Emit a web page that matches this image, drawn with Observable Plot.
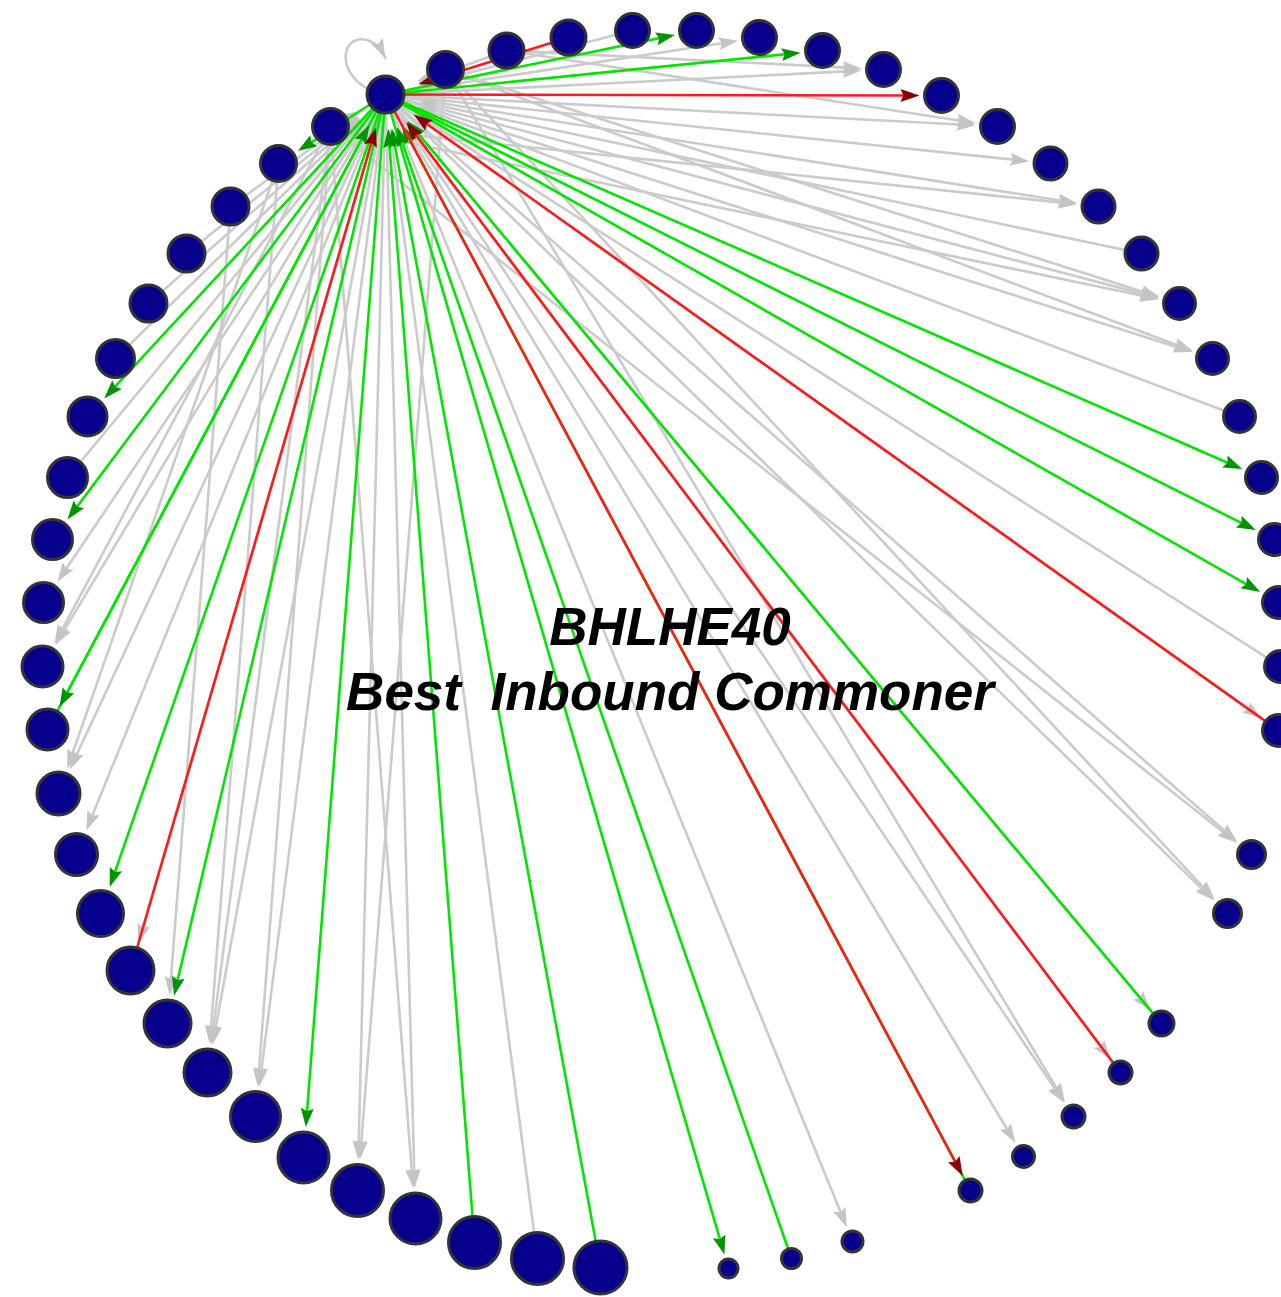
<!DOCTYPE html>
<html><head><meta charset="utf-8">
<script src="https://cdn.jsdelivr.net/npm/d3@7"></script>
<script src="https://cdn.jsdelivr.net/npm/@observablehq/plot@0.6"></script>
<style>html,body{margin:0;padding:0;background:#fff;overflow:hidden}</style>
</head><body><div id="chart"></div>
<script>
// Network layout (node 0 = BHLHE40 hub)
const nodeX = [385,445,506,568,632,696,759,822,883,941,997,1050,1098,1141,1179,1212,1239,1261,1274,1278,1280,1278,1251,1227,1161,1120,1073,1023,970,852,791,728,600,537,474,415,357,303,255,207,167,130,100,76,58,47,42,43,52,67,87,115,148,186,230,278,330];
const nodeY = [94,69,50,37,30,30,37,50,69,95,126,163,206,253,303,358,416,477,539,602,666,730,854,913,1023,1072,1116,1156,1190,1241,1258,1268,1267,1258,1242,1218,1190,1157,1116,1072,1023,970,913,854,793,729,666,602,539,477,416,358,303,253,206,163,126];
const nodeSize = [18.5,18,17.5,17.5,17,17,17,17,17,17,17,16.5,16.5,16.5,16,16,16,16,16,16,16,16,14,14,12.5,11.5,11.5,11,11.5,10.5,10,9.5,26.5,26,26,25.5,26,25.5,25,23.5,23.5,23.5,23,21,21.5,20.5,20.5,20,20,20,19.5,19,18.5,18.5,18.5,18,18];

// Edges: source, target, kind
const edgeSource = [
  // grey
  0,0,0,0,0,0,0,0,0,0,0,0,0,0,0,0,0,0,0,0,0,0,0,0,
  13,16,20,33,52,53,54,4,1,2,56,49,51,
  56,1,56,1,56,1,2,56,55,56,1,56,54,55,56,1,2,
  // green
  0,0,0,0,0,24,28,0,30,32,34,0,0,0,0,45,0,0,0,
  // red
  3,0,21,25,0,41
];
const edgeTarget = [
  6,8,10,11,12,14,15,21,22,23,24,25,26,27,29,35,36,38,39,43,44,46,47,41,
  0,0,0,0,0,0,0,0,0,0,0,0,0,
  14,14,22,23,12,15,10,38,39,39,36,35,40,44,46,26,8,
  5,7,17,18,19,0,0,31,0,0,0,37,40,42,45,0,48,50,55,
  0,9,0,0,28,0
];
const edgeKind = [
  ...Array(24).fill("grey"), ...Array(13).fill("grey"), ...Array(17).fill("grey"),
  ...Array(19).fill("green"),
  ...Array(6).fill("red")
];
const selfLoops = [0]; // hub regulates itself
const centerTitle = "BHLHE40\nBest\u00a0\u00a0Inbound Commoner";

const nodes = nodeX.map((x, i) => ({id: i, x, y: nodeY[i], r: nodeSize[i]}));
const edges = edgeSource.map((s, i) => {
  const a = nodes[s], b = nodes[edgeTarget[i]];
  const dx = b.x - a.x, dy = b.y - a.y, L = Math.hypot(dx, dy);
  const ux = dx / L, uy = dy / L;
  const d = b.r + (b.id === 0 ? 16 : 5);
  return {
    kind: edgeKind[i],
    x1: a.x, y1: a.y,
    x2: b.x - ux * (d + 6), y2: b.y - uy * (d + 6),
    hx: b.x - ux * d, hy: b.y - uy * d,
    angle: Math.atan2(ux, -uy) * 180 / Math.PI
  };
});

// self-loop drawn as a petal leaving and re-entering the hub
const loopLines = [], loopHeads = [];
for (const i of selfLoops) {
  const n = nodes[i], N = 40, pts = [];
  for (let k = 0; k <= N; k++) {
    const t = Math.PI * k / N, rad = 62 * Math.sin(t);
    const a = (-172 + 102 * k / N) * Math.PI / 180;
    const p = {x: n.x + rad * Math.cos(a), y: n.y + rad * Math.sin(a), loop: i};
    if (k > N / 2 && rad < n.r + 16) break;
    pts.push(p);
  }
  loopLines.push(...pts);
  const p1 = pts[pts.length - 2], p2 = pts[pts.length - 1];
  const dx = p2.x - p1.x, dy = p2.y - p1.y;
  loopHeads.push({x: p2.x, y: p2.y, angle: Math.atan2(dx, -dy) * 180 / Math.PI});
}

const arrowHead = {draw(ctx) {
  ctx.moveTo(0, 0); ctx.lineTo(6.5, 19); ctx.lineTo(0, 16); ctx.lineTo(-6.5, 19); ctx.closePath();
}};
const lineColor = {grey: "#cbcbcb", green: "#00e600", red: "#ff1a1a"};
const headColor = {grey: "#c4c4c4", green: "#009400", red: "#8a0000"};

const marks = [
  Plot.line(loopLines, {x: "x", y: "y", z: "loop", curve: "basis", stroke: "#cbcbcb", strokeWidth: 2.6}),
  Plot.dot(loopHeads, {x: "x", y: "y", rotate: "angle", symbol: arrowHead, r: 5, fill: "#c4c4c4", stroke: "none"})
];
for (const k of ["grey", "green", "red"]) {
  const sub = edges.filter(e => e.kind === k);
  marks.push(Plot.link(sub, {x1: "x1", y1: "y1", x2: "x2", y2: "y2", stroke: lineColor[k], strokeWidth: 2.6}));
  marks.push(Plot.dot(sub, {x: "hx", y: "hy", rotate: "angle", symbol: arrowHead, r: 5, fill: headColor[k], stroke: "none"}));
}
marks.push(Plot.dot(nodes, {x: "x", y: "y", r: "r", fill: "#07008c", stroke: "#333338", strokeWidth: 3}));
marks.push(Plot.text([centerTitle], {
  frameAnchor: "middle", dx: 29, dy: 8, text: d => d,
  fontSize: 53, fontWeight: "bold", fontStyle: "italic", lineHeight: 1.21,
  fontFamily: "'Liberation Sans', Arial, Helvetica, sans-serif", fill: "#000"
}));

const chart = Plot.plot({
  width: 1281, height: 1297,
  margin: 0,
  x: {domain: [0, 1281], range: [0, 1281], axis: null},
  y: {domain: [0, 1297], range: [0, 1297], axis: null},
  r: {type: "identity"},
  style: {background: "#fff", overflow: "visible"},
  marks
});
document.getElementById("chart").appendChild(chart);
</script>
</body></html>
